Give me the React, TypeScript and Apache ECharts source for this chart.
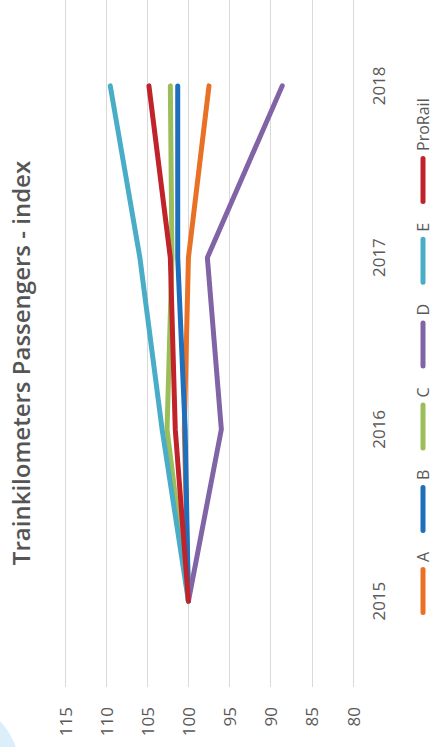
import React, { useEffect, useRef } from "react";
import * as echarts from "echarts";

const years = ["2015", "2016", "2017", "2018"];
const seriesNames = ["A", "B", "C", "D", "E", "ProRail"];
const seriesA = [100, 100.5, 100.0, 97.5];
const seriesB = [100, 100.4, 101.3, 101.3];
const seriesC = [100, 102.6, 102.0, 102.2];
const seriesD = [100, 96.0, 97.7, 88.6];
const seriesE = [100, 103.2, 105.9, 109.5];
const seriesProRail = [100, 101.6, 102.2, 104.8];
const seriesColors = ["#E97126", "#1E6FBC", "#9CBE5A", "#8164A6", "#4AADC8", "#C1232B"];
const valueMin = 80;
const valueMax = 115;
const valueStep = 5;
const chartTitle = "Trainkilometers Passengers - index";

const FONT = "'Open Sans', 'Noto Sans', sans-serif";
const TEXT_COLOR = "#595959";

export default function App() {
  const ref = useRef<HTMLDivElement>(null);

  useEffect(() => {
    if (!ref.current) return;
    const chart = echarts.init(ref.current, undefined, { renderer: "svg" });
    const allData = [seriesA, seriesB, seriesC, seriesD, seriesE, seriesProRail];
    chart.setOption({
      animation: false,
      backgroundColor: "#ffffff",
      textStyle: { fontFamily: FONT },
      grid: { left: 60, right: -1, top: 65, bottom: 82, containLabel: false },
      graphic: [
        {
          type: "circle",
          shape: { cx: -25, cy: -55, r: 75 },
          style: { fill: "#DAEFFA" },
          silent: true,
          z: -1,
        },
        {
          type: "text",
          x: 384,
          y: 20,
          style: {
            text: chartTitle,
            fill: "#555555",
            font: `600 24px ${FONT}`,
            textAlign: "center",
            textVerticalAlign: "middle",
          },
        },
      ],
      legend: {
        data: seriesNames,
        left: 127,
        top: 409,
        itemWidth: 48,
        itemHeight: 5,
        itemGap: 19,
        icon: "path://M2.5,0 L45.5,0 A2.5,2.5 0 0 1 45.5,5 L2.5,5 A2.5,2.5 0 0 1 2.5,0 Z",
        textStyle: { fontSize: 16, lineHeight: 18, color: TEXT_COLOR, fontFamily: FONT },
      },
      xAxis: {
        type: "category",
        data: years,
        boundaryGap: true,
        axisLine: { show: false },
        axisTick: { show: false },
        axisLabel: { fontSize: 17, color: TEXT_COLOR, margin: 17, fontFamily: FONT },
        splitLine: { show: false },
      },
      yAxis: {
        type: "value",
        min: valueMin,
        max: valueMax,
        interval: valueStep,
        axisLine: { show: false },
        axisTick: { show: false },
        axisLabel: { fontSize: 17, color: TEXT_COLOR, margin: 20, fontFamily: FONT },
        splitLine: { lineStyle: { color: "#D9D9D9", width: 1 } },
      },
      series: seriesNames.map((name, i) => ({
        name,
        type: "line",
        data: allData[i],
        showSymbol: false,
        symbol: "none",
        color: seriesColors[i],
        lineStyle: { width: 5, color: seriesColors[i], cap: "round", join: "round" },
      })),
    });
    return () => chart.dispose();
  }, []);

  return (
    <div
      style={{
        position: "fixed",
        left: 0,
        top: 0,
        width: 435,
        height: 747,
        overflow: "hidden",
        background: "#ffffff",
      }}
    >
      <div
        ref={ref}
        style={{
          position: "absolute",
          left: 0,
          top: 0,
          width: 747,
          height: 435,
          transformOrigin: "0 0",
          transform: "translateY(747px) rotate(-90deg)",
        }}
      />
    </div>
  );
}
